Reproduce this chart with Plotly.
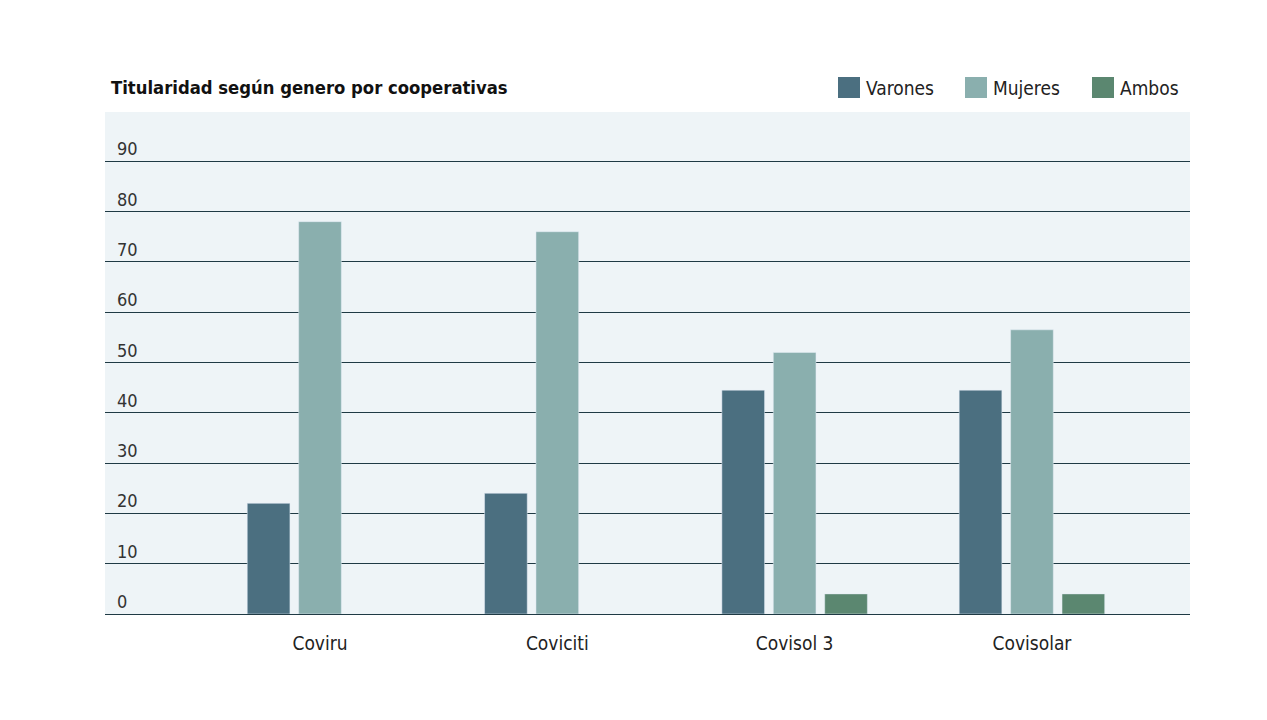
import plotly.graph_objects as go

categories = ["Coviru", "Coviciti", "Covisol 3", "Covisolar"]
varones = [22, 24, 44.5, 44.5]
mujeres = [78, 76, 52, 56.5]
ambos = [None, None, 4, 4]
y_ticks = [0, 10, 20, 30, 40, 50, 60, 70, 80, 90]
title_text = "Titularidad según genero por cooperativas"
series_names = ["Varones", "Mujeres", "Ambos"]
series_colors = ["#4b6f80", "#8aafae", "#5b8770"]

FONT = "Liberation Sans Narrow, DejaVu Sans Condensed, Roboto, sans-serif"

# page offset of the plot (browser body margin is 8px)
PL, PR, PT, PB = 105, 1190, 112, 614


def px_x(px):
    return (px - PL) / (PR - PL)


def px_y(py):
    return (PB - py) / (PB - PT)


fig = go.Figure()
for name, vals, col in zip(series_names, [varones, mujeres, ambos], series_colors):
    fig.add_trace(go.Bar(name=name, x=categories, y=vals, marker_color=col,
                         showlegend=False))

for v in y_ticks:
    fig.add_annotation(x=0, xref="paper", xanchor="left", xshift=10,
                       y=v, yref="y", yanchor="bottom", yshift=0,
                       text=str(v), showarrow=False,
                       font=dict(family=FONT, size=18, color="#333333"))

fig.add_annotation(x=px_x(109), xref="paper", xanchor="left",
                   y=px_y(87), yref="paper", yanchor="middle",
                   text="<b>" + title_text + "</b>", showarrow=False,
                   font=dict(family=FONT, size=18.3, color="#111111"))

# custom legend (large square swatches)
legend_sq_x = [838, 965, 1092]
for name, col, sx in zip(series_names, series_colors, legend_sq_x):
    fig.add_shape(type="rect", xref="paper", yref="paper",
                  x0=px_x(sx), x1=px_x(sx + 22), y0=px_y(98), y1=px_y(77),
                  fillcolor=col, line=dict(width=0))
    fig.add_annotation(x=px_x(sx + 26), xref="paper", xanchor="left",
                       y=px_y(87.5), yref="paper", yanchor="middle",
                       text=name, showarrow=False,
                       font=dict(family=FONT, size=19, color="#222222"))

fig.update_layout(
    width=1267, height=720,
    margin=dict(l=97, r=85, t=104, b=114),
    paper_bgcolor="white",
    plot_bgcolor="#eef4f7",
    barmode="group",
    bargap=0.35,
    bargroupgap=0.17,
    showlegend=False,
    xaxis=dict(range=[-0.906, 3.666], showgrid=False, zeroline=False,
               tickfont=dict(family=FONT, size=19, color="#222222"),
               ticks="", ticklabelstandoff=16),
    yaxis=dict(range=[0, 99.8], tickvals=y_ticks, showticklabels=False,
               showgrid=True, gridcolor="#1f3a44", gridwidth=1.1,
               zeroline=True, zerolinecolor="#1f3a44", zerolinewidth=1.1),
    font=dict(family=FONT),
)

fig.write_html("out.html")
